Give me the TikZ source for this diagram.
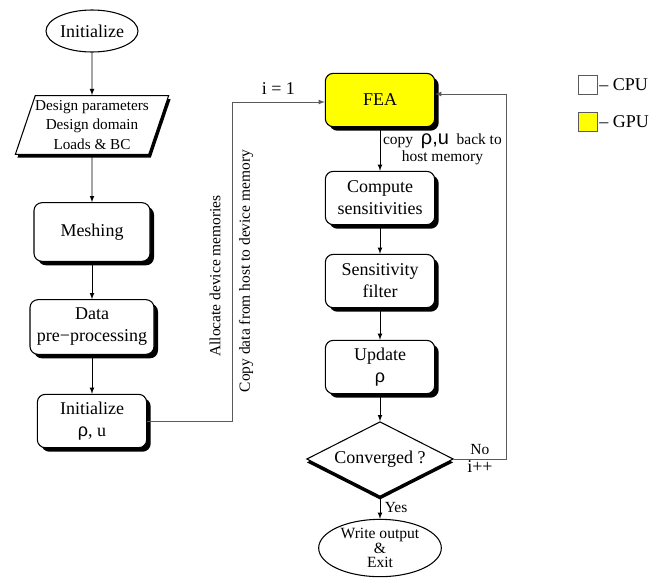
\documentclass[tikz,border=0pt]{standalone}
\usepackage{fontspec}
\setmainfont{Liberation Serif}
\newfontfamily\symbolfont{Liberation Sans}
\usetikzlibrary{shapes.geometric,shadows,arrows}
\definecolor{gpuyellow}{RGB}{255,255,0}
\definecolor{boxgray}{RGB}{90,90,90}
\newcommand{\rhosym}{{\symbolfont ρ}}

\begin{document}
\begin{tikzpicture}[
        x=0.75pt, y=-0.75pt,
        every node/.style={font=\fontsize{13.5}{16.5}\selectfont, align=center},
        shade/.style={drop shadow={shadow xshift=3pt, shadow yshift=-3pt, fill=black, opacity=1}},
        terminal/.style={ellipse, draw, line width=0.8pt, fill=white, inner sep=0pt},
        process/.style={rectangle, rounded corners=6pt, draw, line width=0.8pt, fill=white,
            minimum width=82pt, minimum height=40pt, shade},
        inout/.style={trapezium, trapezium left angle=68, trapezium right angle=112,
            trapezium stretches=true, draw, line width=0.8pt, fill=white,
            minimum width=98pt, minimum height=44pt, inner sep=0pt,
            drop shadow={shadow xshift=1.5pt, shadow yshift=-2.5pt, fill=black, opacity=1},
            font=\fontsize{11.4}{14.6}\selectfont},
        decision/.style={diamond, aspect=2, draw, line width=0.8pt, fill=white,
            minimum width=110pt, minimum height=56pt, inner sep=0pt,
            drop shadow={shadow xshift=0pt, shadow yshift=-2.5pt, fill=black, opacity=1}},
        flow/.style={-latex, line width=0.6pt},
        link/.style={line width=0.6pt, draw=boxgray},
        note/.style={font=\fontsize{11.6}{13}\selectfont},
        legendbox/.style={draw=boxgray, line width=0.6pt, minimum width=14pt, minimum height=14pt, inner sep=0pt}
    ]
    \useasboundingbox (0,0) rectangle (666,579);

    % left column: preparation on the host
    \node[terminal, minimum width=69pt, minimum height=31.5pt] (start) at (92,31) {Initialize};
    \node[inout] (param) at (92,125) {Design parameters\\Design domain\\Loads \& BC};
    \node[process, minimum width=87pt, minimum height=44pt] (mesh) at (92,232) {Meshing};
    \node[process, minimum width=93pt, minimum height=41pt] (data) at (92,327) {Data\\pre{\textminus}processing};
    \node[process] (init) at (92,421) {Initialize\\\rhosym, u};

    % right column: optimization loop
    \node[process, fill=gpuyellow] (fea) at (380,100) {FEA};
    \node[process] (comp) at (380,198) {Compute\\sensitivities};
    \node[process] (filt) at (380,281) {Sensitivity\\filter};
    \node[process] (upd) at (380,367) {Update\\\rhosym};
    \node[decision] (conv) at (380,459) {Converged ?};
    \node[terminal, minimum width=92pt, minimum height=43pt, font=\fontsize{11.7}{11}\selectfont] (done) at (380,548) {Write output\\\&\\Exit};

    \coordinate (turn) at (232,102);
    \coordinate (back) at (506,94);

    \draw[flow] (start) -- (param);
    \draw[flow] (param) -- (mesh);
    \draw[flow] (mesh) -- (data);
    \draw[flow] (data) -- (init);

    \draw[link] (init.east) -| (turn);
    \draw[flow, link] (turn) -- node[above, yshift=2pt] {i = 1} (turn -| fea.west);
    \node[note, rotate=90] (alloc) at (215,276) {Allocate device memories};
    \node[note, rotate=90] (copy) at (246,271) {Copy data from host to device memory};

    \draw[flow] (fea) -- node[right, note, inner sep=2pt] {copy\ \ {\fontsize{15}{13}\symbolfont ρ,u}\ \ back to\\host memory} (comp);
    \draw[flow] (comp) -- (filt);
    \draw[flow] (filt) -- (upd);
    \draw[flow] (upd) -- (conv);
    \draw[flow] (conv) -- node[right, note] {Yes} (done);

    \draw[flow, link] (conv.east) -| node[pos=0.25, above, note] {No} node[pos=0.25, below, inner sep=1pt] {i++} (back) -- (back -| fea.east);

    % legend
    \node[legendbox, fill=white] (cpu) at (588,85) {};
    \node[anchor=west, inner sep=1pt] at (cpu.east) {\textendash\ CPU};
    \node[legendbox, fill=gpuyellow] (gpu) at (588,122) {};
    \node[anchor=west, inner sep=1pt] at (gpu.east) {\textendash\ GPU};

\end{tikzpicture}
\end{document}
